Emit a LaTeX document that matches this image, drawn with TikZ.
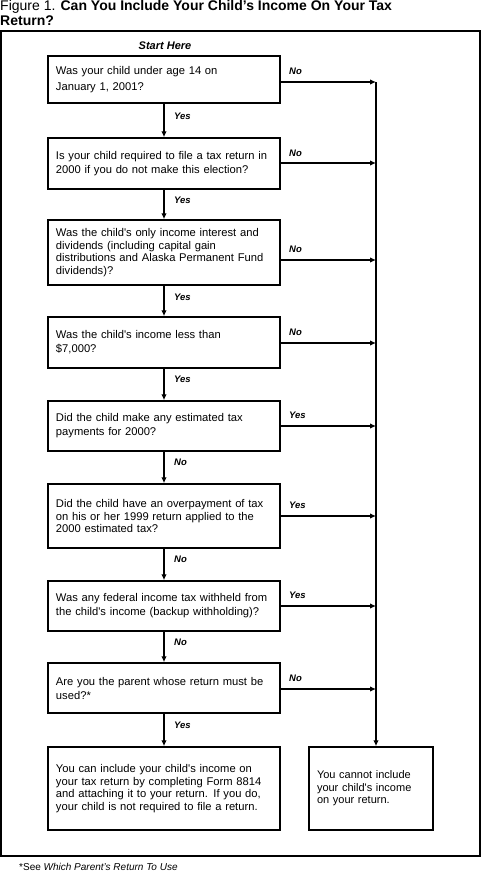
\documentclass[tikz,border=0pt]{standalone}
\usepackage{fontspec}
\setmainfont{Liberation Sans}
\usetikzlibrary{arrows.meta}
\newcommand{\aps}{\textquotesingle}
\begin{document}
\begin{tikzpicture}[x=1pt,y=-1pt,
  box/.style={draw, line width=1.5pt, align=left, inner xsep=8pt, inner ysep=0pt,
    font=\fontsize{11.2}{13}\selectfont},
  qbox/.style={box, text width=216pt, minimum width=232pt},
  arr/.style={line width=1.8pt, -{Latex[length=6pt,width=5.5pt]}},
  lbl/.style={font=\fontsize{9.5}{10}\selectfont\bfseries\itshape, inner sep=0pt},
  rl/.style={lbl, anchor=west},
  dl/.style={lbl, anchor=west},
]
\useasboundingbox (0,0) rectangle (481,879);

% title
\node[anchor=base west, inner sep=0pt, font=\fontsize{14}{16}\selectfont] (t1) at (0,10)
  {Figure 1. \textbf{Can You Include Your Child’s Income On Your Tax}};
\node[anchor=base west, inner sep=0pt, font=\fontsize{14}{16}\selectfont\bfseries] (t2) at (0,25) {Return?};

% frame
\draw[line width=2pt] (1,31) rectangle (480,856);

\node[lbl, font=\fontsize{11}{12}\selectfont\bfseries\itshape] (start) at (165,46) {Start Here};

% question boxes
\node[qbox, minimum height=47pt, font=\fontsize{11.2}{16}\selectfont] (b1) at (164,79.5)
  {Was your child under age 14 on\\January 1, 2001?};
\node[qbox, minimum height=51pt, font=\fontsize{11.2}{14}\selectfont] (b2) at (164,163.5)
  {Is your child required to file a tax return in\\2000 if you do not make this election?};
\node[qbox, minimum height=65pt, font=\fontsize{11.2}{12.8}\selectfont] (b3) at (164,252.5)
  {Was the child\aps s only income interest and\\dividends (including capital gain\\distributions and Alaska Permanent Fund\\dividends)?};
\node[qbox, minimum height=51pt, font=\fontsize{11.2}{14}\selectfont] (b4) at (164,342.5)
  {Was the child\aps s income less than\\\$7,000?};
\node[qbox, minimum height=50pt, font=\fontsize{11.2}{14}\selectfont] (b5) at (164,426)
  {Did the child make any estimated tax\\payments for 2000?};
\node[qbox, minimum height=64pt, font=\fontsize{11.2}{12.6}\selectfont] (b6) at (164,516)
  {Did the child have an overpayment of tax\\on his or her 1999 return applied to the\\2000 estimated tax?};
\node[qbox, minimum height=50pt, font=\fontsize{11.2}{14}\selectfont] (b7) at (164,606)
  {Was any federal income tax withheld from\\the child\aps s income (backup withholding)?};
\node[qbox, minimum height=50pt, font=\fontsize{11.2}{14}\selectfont] (b8) at (164,688)
  {Are you the parent whose return must be\\used?*};
\node[qbox, minimum height=83pt, font=\fontsize{11.2}{12.6}\selectfont] (b9) at (164,788.5)
  {You can include your child\aps s income on\\your tax return by completing Form 8814\\and attaching it to your return. If you do,\\your child is not required to file a return.};
\node[box, text width=108pt, minimum width=124pt, minimum height=83pt, font=\fontsize{11}{12.4}\selectfont] (b10) at (371,788.5)
  {You cannot include\\your child\aps s income\\on your return.};

% right-hand collector
\coordinate (r1) at (376,82);
\coordinate (r2) at (376,163);
\coordinate (r3) at (376,260);
\coordinate (r4) at (376,343);
\coordinate (r5) at (376,426);
\coordinate (r6) at (376,516);
\coordinate (r7) at (376,606);
\coordinate (r8) at (376,689);

\draw[arr] (r1) -- (r1 |- b10.north);
\foreach \i in {1,...,8} {
  \draw[arr] (b\i.east |- r\i) -- (r\i);
}

% down arrows
\foreach \i/\j in {1/2,2/3,3/4,4/5,5/6,6/7,7/8,8/9} {
  \draw[arr] (b\i.south) -- (b\j.north);
}

% right labels
\node[rl] (n1) at (289,71) {No};
\node[rl] (n2) at (289,153) {No};
\node[rl] (n3) at (289,249) {No};
\node[rl] (n4) at (289,332) {No};
\node[rl] (n5) at (289,415) {Yes};
\node[rl] (n6) at (289,505) {Yes};
\node[rl] (n7) at (289,595) {Yes};
\node[rl] (n8) at (289,678) {No};

% down labels
\node[dl] (d1) at (174,116) {Yes};
\node[dl] (d2) at (174,200) {Yes};
\node[dl] (d3) at (174,297) {Yes};
\node[dl] (d4) at (174,379) {Yes};
\node[dl] (d5) at (174,462) {No};
\node[dl] (d6) at (174,559) {No};
\node[dl] (d7) at (174,642) {No};
\node[dl] (d8) at (174,725) {Yes};

% footnote
\node[anchor=base west, inner sep=0pt, font=\fontsize{10}{11}\selectfont] (fn) at (19,870)
  {*See \textit{Which Parent’s Return To Use}};
\end{tikzpicture}
\end{document}
